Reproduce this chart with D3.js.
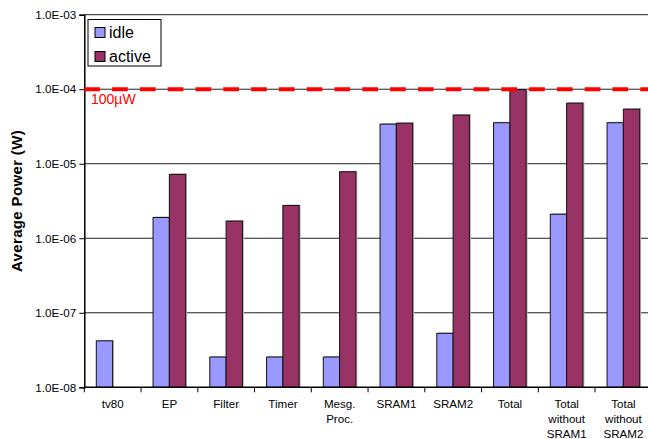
<!DOCTYPE html>
<html>
<head>
<meta charset="utf-8">
<script src="https://cdn.jsdelivr.net/npm/d3@7"></script>
<style>
  html, body { margin: 0; padding: 0; background: #fff; }
  svg { display: block; font-family: "Liberation Sans", Arial, sans-serif; }
  svg text { font-family: "Liberation Sans", Arial, sans-serif; }
</style>
</head>
<body>
<svg id="chart" width="648" height="439"></svg>
<script>
// Average power per block, idle vs active (W)
const categories = [
  ["tv80"], ["EP"], ["Filter"], ["Timer"], ["Mesg.", "Proc."],
  ["SRAM1"], ["SRAM2"], ["Total"], ["Total", "without", "SRAM1"], ["Total", "without", "SRAM2"]
];
const seriesNames = ["idle", "active"];
const idleValues   = [4.2e-8, 1.9e-6, 2.55e-8, 2.55e-8, 2.55e-8, 3.4e-5, 5.3e-8, 3.55e-5, 2.1e-6, 3.55e-5];
const activeValues = [null,   7.2e-6, 1.7e-6,  2.75e-6, 7.8e-6,  3.5e-5, 4.5e-5, 9.9e-5,  6.5e-5, 5.4e-5];
const tickValues = [1e-8, 1e-7, 1e-6, 1e-5, 1e-4, 1e-3];
const tickLabels = ["1.0E-08", "1.0E-07", "1.0E-06", "1.0E-05", "1.0E-04", "1.0E-03"];
const limitValue = 1e-4;
const limitLabel = "100\u00b5W";
const colors = { idle: "#9999ff", active: "#993366" };

const svg = d3.select("#chart");
const W = 648;
const plot = { left: 84.3, top: 14.7, bottom: 387.3, step: 56.75 };

const keys = categories.map((c, i) => i);
const x = d3.scaleBand()
  .domain(keys)
  .range([plot.left, plot.left + plot.step * categories.length])
  .padding(0);
const xs = d3.scaleBand()
  .domain(seriesNames)
  .range([12, 44.6])
  .padding(0);
const y = d3.scaleLog()
  .domain([1e-8, 1e-3])
  .range([plot.bottom, plot.top]);

// horizontal gridlines at each decade
svg.append("g")
  .selectAll("line")
  .data(tickValues.slice(1))
  .join("line")
  .attr("x1", plot.left).attr("x2", W)
  .attr("y1", d => y(d)).attr("y2", d => y(d))
  .attr("stroke", "#222").attr("stroke-width", 1);

// y axis
const yAxis = d3.axisLeft(y)
  .tickValues(tickValues)
  .tickFormat((d, i) => tickLabels[i])
  .tickSize(5)
  .tickPadding(3);
const gy = svg.append("g").attr("transform", `translate(${plot.left},0)`).call(yAxis);
gy.attr("font-family", null);
gy.select(".domain").attr("stroke", "#000").attr("stroke-width", 1.5);
gy.selectAll(".tick line").attr("stroke", "#000");
gy.selectAll(".tick text").attr("font-size", 11.7).attr("fill", "#000");

// bars
const rows = keys.map(i => ({ i, values: [
  { key: "idle", v: idleValues[i] },
  { key: "active", v: activeValues[i] }
]}));
const groups = svg.append("g").selectAll("g")
  .data(rows)
  .join("g")
  .attr("transform", d => `translate(${x(d.i)},0)`);

const barData = d => d.values.filter(b => b.v != null);
// soft drop shadow
groups.selectAll("rect.shadow")
  .data(barData)
  .join("rect")
  .attr("class", "shadow")
  .attr("x", b => xs(b.key) + 1.5)
  .attr("y", b => y(b.v) - 1)
  .attr("width", xs.bandwidth())
  .attr("height", b => plot.bottom - y(b.v) + 1)
  .attr("fill", "#bbb");
groups.selectAll("rect.bar")
  .data(barData)
  .join("rect")
  .attr("class", "bar")
  .attr("x", b => xs(b.key))
  .attr("y", b => y(b.v))
  .attr("width", xs.bandwidth())
  .attr("height", b => plot.bottom - y(b.v))
  .attr("fill", b => colors[b.key])
  .attr("stroke", "#111")
  .attr("stroke-width", 1);

// x axis with ticks at category boundaries
const gx = svg.append("g");
gx.append("line")
  .attr("x1", plot.left).attr("x2", W)
  .attr("y1", plot.bottom).attr("y2", plot.bottom)
  .attr("stroke", "#000").attr("stroke-width", 1.5);
gx.selectAll("line.tick")
  .data(keys)
  .join("line")
  .attr("class", "tick")
  .attr("x1", d => x(d)).attr("x2", d => x(d))
  .attr("y1", plot.bottom).attr("y2", plot.bottom + 5)
  .attr("stroke", "#000");
const labels = gx.selectAll("text")
  .data(rows)
  .join("text")
  .attr("text-anchor", "middle")
  .attr("font-size", 11.6)
  .attr("fill", "#000");
labels.selectAll("tspan")
  .data(d => categories[d.i].map(t => ({ t, cx: x(d.i) + x.bandwidth() / 2 })))
  .join("tspan")
  .attr("x", d => d.cx)
  .attr("y", (d, j) => 408 + j * 15)
  .text(d => d.t);

// 100 µW limit line
svg.append("line")
  .attr("x1", plot.left).attr("x2", W)
  .attr("y1", y(limitValue)).attr("y2", y(limitValue))
  .attr("stroke", "#ff0000").attr("stroke-width", 4)
  .attr("stroke-dasharray", "15.7,12.1");
svg.append("text")
  .attr("x", 91).attr("y", y(limitValue) + 15)
  .attr("font-size", 14).attr("fill", "#ff0000")
  .text(limitLabel);

// y axis title
svg.append("text")
  .attr("transform", `translate(21.5,${(plot.top + plot.bottom) / 2}) rotate(-90)`)
  .attr("text-anchor", "middle")
  .attr("font-size", 15).attr("font-weight", "bold")
  .attr("letter-spacing", 0.35)
  .text("Average Power (W)");

// legend
const lg = svg.append("g").attr("transform", "translate(88,19.5)");
lg.append("rect").attr("width", 73).attr("height", 46.5)
  .attr("fill", "#fff").attr("stroke", "#000").attr("stroke-width", 1);
const li = lg.selectAll("g").data(seriesNames).join("g")
  .attr("transform", (d, i) => `translate(7,${8 + i * 24})`);
li.append("rect").attr("width", 10).attr("height", 10)
  .attr("fill", d => colors[d]).attr("stroke", "#000");
li.append("text").attr("x", 14).attr("y", 10.5)
  .attr("font-size", 16).attr("fill", "#000")
  .text(d => d);
</script>
</body>
</html>
